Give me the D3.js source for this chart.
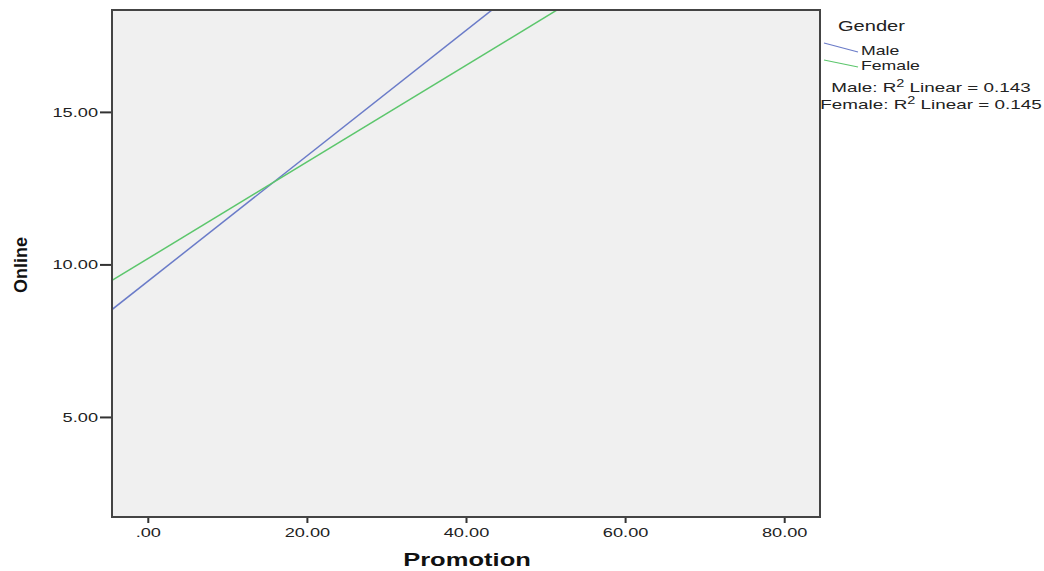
<!DOCTYPE html>
<html><head><meta charset="utf-8">
<script src="https://cdn.jsdelivr.net/npm/d3@7"></script>
<style>body{margin:0;background:#fff}svg{display:block}text{font-family:"Liberation Sans",Arial,sans-serif}</style>
</head><body><svg id="c" width="1044" height="571"></svg>
<script>
const xTicks = [0, 20, 40, 60, 80];
const yTicks = [5, 10, 15];
const seriesNames = ["Male", "Female"];
const seriesColors = ["#6a7bc8", "#5cc66c"];
const fitX = [-4.5, 84.5];
const maleFitY = [8.52, 26.82];
const femaleFitY = [9.475, 23.58];
const r2Labels = ["Male: R\u00b2 Linear = 0.143", "Female: R\u00b2 Linear = 0.145"];

const svg = d3.select("#c");
const L = 112, T = 10, R = 820, B = 517;
const x = d3.scaleLinear().domain([-4.5, 84.5]).range([L, R]);
const y = d3.scaleLinear().domain([1.72, 18.34]).range([B, T]);

function stretch(sel, s) {
  sel.each(function () {
    const ax = +this.getAttribute("x") || 0;
    d3.select(this).attr("transform", `translate(${ax},0) scale(${s},1) translate(${-ax},0)`);
  });
}

svg.append("rect").attr("x", L).attr("y", T).attr("width", R - L).attr("height", B - T).attr("fill", "#f0f0f0");
svg.append("clipPath").attr("id", "clip").append("rect").attr("x", L).attr("y", T).attr("width", R - L).attr("height", B - T);

const fmt = d => d === 0 ? ".00" : d3.format(".2f")(d);
const xa = svg.append("g").attr("transform", `translate(0,${B})`).call(d3.axisBottom(x).tickValues(xTicks).tickFormat(fmt).tickSize(6).tickPadding(5));
const ya = svg.append("g").attr("transform", `translate(${L},0)`).call(d3.axisLeft(y).tickValues(yTicks).tickFormat(fmt).tickSize(12).tickPadding(2));
[xa, ya].forEach(a => {
  a.select(".domain").remove();
  a.selectAll("line").attr("stroke", "#333").attr("stroke-width", 2);
  a.selectAll("text").attr("font-size", 13).attr("fill", "#222");
  stretch(a.selectAll("text"), 1.4);
});

const data = [maleFitY, femaleFitY];
const line = d3.line().x(d => x(d[0])).y(d => y(d[1]));
data.forEach((ys, i) => {
  svg.append("path").attr("clip-path", "url(#clip)")
    .attr("d", line(fitX.map((xv, j) => [xv, ys[j]])))
    .attr("fill", "none").attr("stroke", seriesColors[i]).attr("stroke-width", 1.5);
});

svg.append("rect").attr("x", L).attr("y", T).attr("width", R - L).attr("height", B - T)
  .attr("fill", "none").attr("stroke", "#444").attr("stroke-width", 2);

const xt = svg.append("text").attr("x", 467).attr("y", 566).attr("text-anchor", "middle")
  .attr("font-size", 18).attr("font-weight", "bold").attr("fill", "#111").text("Promotion");
stretch(xt, 1.42);
svg.append("text").attr("transform", "translate(27,265) rotate(-90)").attr("text-anchor", "middle")
  .attr("font-size", 18).attr("font-weight", "bold").attr("font-family", "'Liberation Sans Narrow','DejaVu Sans Condensed',sans-serif").attr("fill", "#111").text("Online");

// legend
const gt = svg.append("text").attr("x", 838).attr("y", 31).attr("font-size", 15).attr("fill", "#222").text("Gender");
stretch(gt, 1.34);
const legY = [[43, 52], [60, 67]];
seriesNames.forEach((n, i) => {
  svg.append("line").attr("x1", 824).attr("y1", legY[i][0]).attr("x2", 858).attr("y2", legY[i][1])
    .attr("stroke", seriesColors[i]).attr("stroke-width", 1.2);
  const lt = svg.append("text").attr("x", 861).attr("y", legY[i][1] + 3).attr("font-size", 13).attr("fill", "#222").text(n);
  stretch(lt, 1.36);
});
const r2Y = [92, 109];
r2Labels.forEach((t, i) => {
  const parts = t.split("\u00b2");
  const tx = svg.append("text").attr("x", 931).attr("y", r2Y[i]).attr("text-anchor", "middle").attr("font-size", 13).attr("fill", "#222");
  tx.append("tspan").text(parts[0]);
  tx.append("tspan").attr("dy", -5).attr("font-size", 10).text("2");
  tx.append("tspan").attr("dy", 5).text(parts[1]);
  stretch(tx, 1.45);
});
</script></body></html>
